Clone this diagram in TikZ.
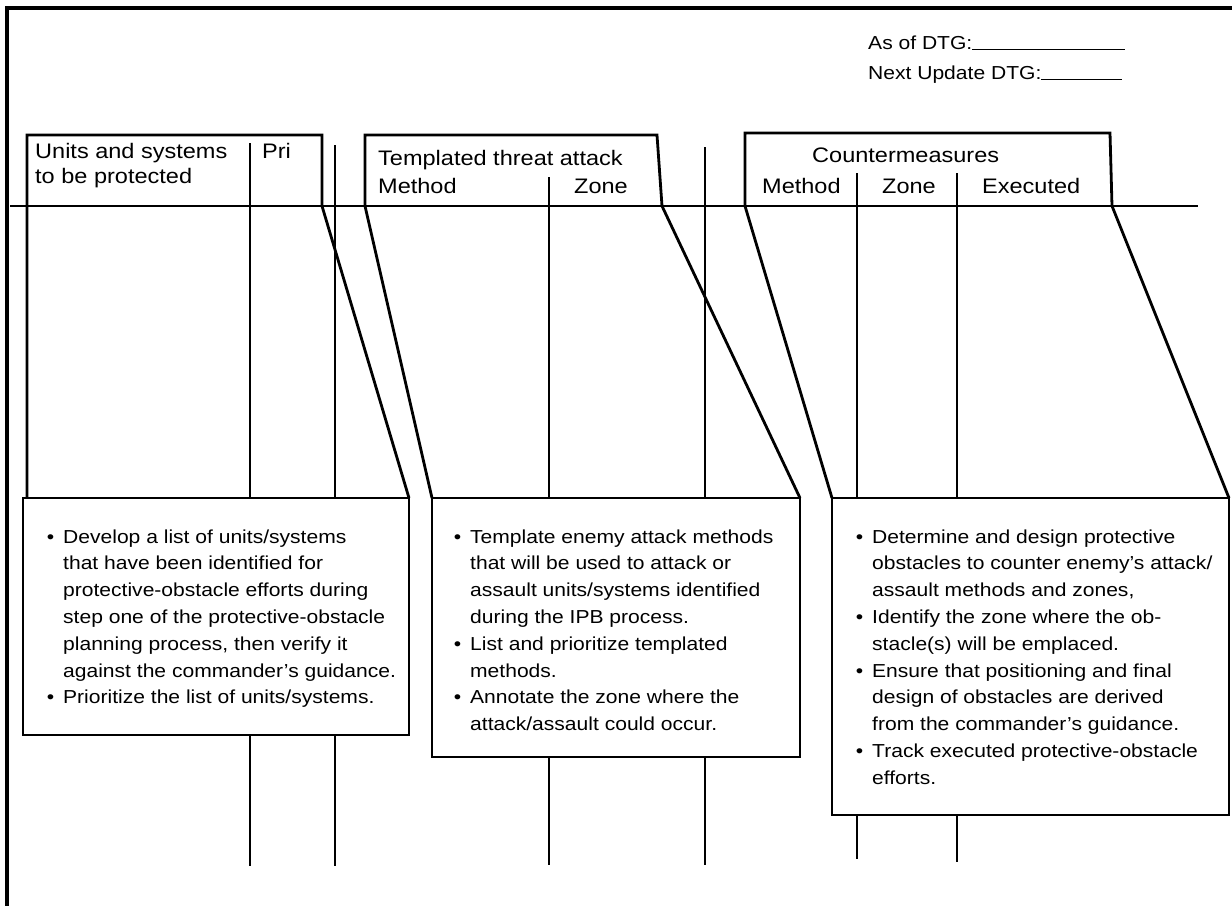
\documentclass[tikz,border=0pt]{standalone}
\usepackage{fontspec}
\setmainfont{Liberation Sans}[FakeStretch=1.12]
\usetikzlibrary{calc}
% bullet hung to the left of the text column
\newcommand{\blt}{\llap{\textbullet\hspace{9pt}}}
\begin{document}
\begin{tikzpicture}[x=1pt,y=-1pt,
  rl/.style={line width=2.8pt},
  boxnode/.style={draw, line width=2.8pt, fill=white, anchor=north west, inner sep=0pt, outer sep=0pt},
  hdr/.style={font=\fontsize{21}{25}\selectfont, anchor=base west, inner sep=0pt},
  dtg/.style={font=\fontsize{18.8}{26.8}\selectfont, anchor=base west, inner sep=0pt},
  bodytext/.style={font=\fontsize{18.8}{26.8}\selectfont, align=left, anchor=north west, inner sep=0pt}]
\useasboundingbox (0,0) rectangle (1232,906);

% outer frame (top and left only)
\draw[line width=3.2pt] (1232,8) -- (7,8) -- (7,906);

% update stamp
\node[dtg] (asof) at (868,49) {As of DTG:\rule[-1pt]{153pt}{1.3pt}};
\node[dtg] (next) at (868,79) {Next Update DTG:\rule[-1pt]{81pt}{1.3pt}};

% column rules running through the form (boxes are laid over them)
\draw[rl] (250,143) -- (250,866);
\draw[rl] (335,145) -- (335,866);
\draw[rl] (549,177) -- (549,865);
\draw[rl] (705,147) -- (705,865);
\draw[rl] (857,173) -- (857,859);
\draw[rl] (957,173) -- (957,862);

% header rule
\draw[rl] (10,206) -- (1198,206);

% explanation boxes
\node[boxnode, minimum width=386pt, minimum height=237pt] (b1) at (23,498) {};
\node[boxnode, minimum width=368pt, minimum height=259pt] (b2) at (432,498) {};
\node[boxnode, minimum width=397pt, minimum height=317pt] (b3) at (832,498) {};

% header tabs fanning out to the boxes
\draw[rl] (27,498) -- (27,135) -- (322,135) -- (322,206) -- (b1.north east);
\draw[rl] (b2.north west) -- (365,206) -- (365,135) -- (657,135) -- (662,206) -- (b2.north east);
\draw[rl] (b3.north west) -- (745,206) -- (745,133) -- (1110,133) -- (1112,206) -- (b3.north east);

% header labels
\node[hdr] (h1a) at (35,158) {Units and systems};
\node[hdr] (h1b) at (35,183) {to be protected};
\node[hdr] (h1c) at (262,158) {Pri};
\node[hdr] (h2a) at (378,165) {Templated threat attack};
\node[hdr] (h2b) at (378,193) {Method};
\node[hdr] (h2c) at (574,193) {Zone};
\node[hdr] (h3a) at (812,162) {Countermeasures};
\node[hdr] (h3b) at (762,193) {Method};
\node[hdr] (h3c) at (882,193) {Zone};
\node[hdr] (h3d) at (982,193) {Executed};

% box texts
\node[bodytext] (t1) at ($(b1.north west)+(40,31.3)$) {%
\blt Develop a list of units/systems\\
that have been identified for\\
protective-obstacle efforts during\\
step one of the protective-obstacle\\
planning process, then verify it\\
against the commander’s guidance.\\
\blt Prioritize the list of units/systems.};

\node[bodytext] (t2) at ($(b2.north west)+(38,31.3)$) {%
\blt Template enemy attack methods\\
that will be used to attack or\\
assault units/systems identified\\
during the IPB process.\\
\blt List and prioritize templated\\
methods.\\
\blt Annotate the zone where the\\
attack/assault could occur.};

\node[bodytext] (t3) at ($(b3.north west)+(40,31.3)$) {%
\blt Determine and design protective\\
obstacles to counter enemy’s attack/\\
assault methods and zones,\\
\blt Identify the zone where the ob-\\
stacle(s) will be emplaced.\\
\blt Ensure that positioning and final\\
design of obstacles are derived\\
from the commander’s guidance.\\
\blt Track executed protective-obstacle\\
efforts.};
\end{tikzpicture}
\end{document}
